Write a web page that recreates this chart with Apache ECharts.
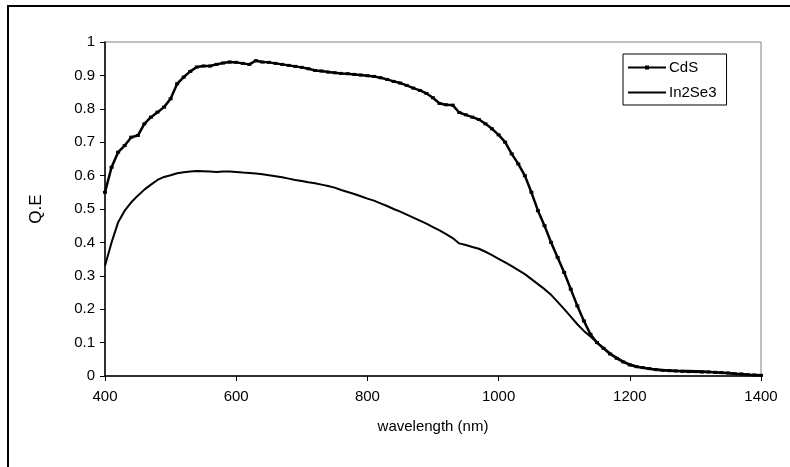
<!DOCTYPE html>
<html>
<head>
<meta charset="utf-8">
<script src="https://cdn.jsdelivr.net/npm/echarts@6/dist/echarts.min.js"></script>
<style>
  html, body { margin: 0; padding: 0; background: #fff; }
  #chart { width: 790px; height: 467px; }
</style>
</head>
<body>
<div id="chart"></div>
<script>
// wavelength grid (nm), 10 nm step
const wavelength = [
  400, 410, 420, 430, 440, 450, 460, 470, 480, 490,
  500, 510, 520, 530, 540, 550, 560, 570, 580, 590,
  600, 610, 620, 630, 640, 650, 660, 670, 680, 690,
  700, 710, 720, 730, 740, 750, 760, 770, 780, 790,
  800, 810, 820, 830, 840, 850, 860, 870, 880, 890,
  900, 910, 920, 930, 940, 950, 960, 970, 980, 990,
  1000, 1010, 1020, 1030, 1040, 1050, 1060, 1070, 1080, 1090,
  1100, 1110, 1120, 1130, 1140, 1150, 1160, 1170, 1180, 1190,
  1200, 1210, 1220, 1230, 1240, 1250, 1260, 1270, 1280, 1290,
  1300, 1310, 1320, 1330, 1340, 1350, 1360, 1370, 1380, 1390,
  1400
]

const cdsQE = [
  0.55, 0.625, 0.67, 0.69, 0.715, 0.72, 0.755, 0.775, 0.79, 0.805,
  0.83, 0.875, 0.895, 0.912, 0.925, 0.928, 0.928, 0.933, 0.937, 0.94,
  0.939, 0.936, 0.933, 0.944, 0.94, 0.939, 0.936, 0.933, 0.93, 0.927,
  0.924, 0.92, 0.915, 0.913, 0.91, 0.908, 0.906, 0.905, 0.903, 0.901,
  0.899, 0.897, 0.893, 0.888, 0.882, 0.877, 0.87, 0.862, 0.855, 0.846,
  0.833, 0.816, 0.812, 0.811, 0.789, 0.782, 0.775, 0.768, 0.755, 0.74,
  0.722, 0.7, 0.665, 0.635, 0.6, 0.55, 0.495, 0.45, 0.4, 0.355,
  0.31, 0.26, 0.21, 0.165, 0.125, 0.1, 0.083, 0.066, 0.053, 0.042,
  0.033, 0.028, 0.025, 0.022, 0.019, 0.017, 0.016, 0.015, 0.014, 0.013,
  0.013, 0.012, 0.012, 0.011, 0.01, 0.009, 0.007, 0.006, 0.004, 0.003,
  0.002
]

const in2se3QE = [
  0.33, 0.4, 0.46, 0.495, 0.52, 0.54, 0.558, 0.573, 0.587, 0.596,
  0.601, 0.607, 0.61, 0.612, 0.614, 0.613, 0.612, 0.611, 0.612, 0.612,
  0.611, 0.609, 0.608, 0.606, 0.604, 0.601, 0.598, 0.595, 0.591, 0.587,
  0.584, 0.58, 0.577, 0.573, 0.569, 0.564, 0.557, 0.551, 0.545, 0.538,
  0.531, 0.525, 0.517, 0.509, 0.5, 0.492, 0.483, 0.474, 0.465, 0.456,
  0.446, 0.436, 0.425, 0.413, 0.397, 0.392, 0.386, 0.381, 0.372, 0.362,
  0.351, 0.34, 0.329, 0.317, 0.305, 0.29, 0.275, 0.26, 0.243, 0.222,
  0.2, 0.178, 0.155, 0.135, 0.118, 0.1, 0.083, 0.068, 0.055, 0.044,
  0.035, 0.029, 0.025, 0.022, 0.02, 0.018, 0.017, 0.016, 0.016, 0.016,
  0.015, 0.014, 0.013, 0.011, 0.009, 0.008, 0.006, 0.005, 0.004, 0.003,
  0.002
]

const seriesNames = ['CdS', 'In2Se3']

const font = 'Liberation Sans, Arial, sans-serif'

const chart = echarts.init(document.getElementById('chart'))

const pairs = (ys) => wavelength.map((x, i) => [x, ys[i]])

// legend icons: a line, the CdS one with a small marker in the middle
const iconCdS = 'path://M0,0 M38,14 M0,6 L38,6 L38,8 L0,8 Z M17,5 L21,5 L21,9 L17,9 Z'
const iconIn2Se3 = 'path://M0,0 M38,14 M0,6 L38,6 L38,8 L0,8 Z'

const option = {
  animation: false,
  backgroundColor: '#fff',
  graphic: [
    {
      type: 'rect',
      shape: { x: 8, y: 6, width: 800, height: 480 },
      style: { fill: 'none', stroke: '#000', lineWidth: 2 },
      silent: true
    }
  ],
  grid: {
    left: 105,
    right: 29,
    top: 42,
    bottom: 91,
    show: true,
    borderColor: '#808080',
    borderWidth: 1,
    backgroundColor: '#fff'
  },
  legend: {
    data: [
      { name: seriesNames[0], icon: iconCdS },
      { name: seriesNames[1], icon: iconIn2Se3 }
    ],
    orient: 'vertical',
    left: 623,
    top: 54,
    itemWidth: 38,
    itemHeight: 14,
    itemGap: 10,
    padding: [6, 10, 5, 5],
    borderColor: '#000',
    borderWidth: 1,
    backgroundColor: '#fff',
    textStyle: { fontFamily: font, fontSize: 15, color: '#000', padding: [0, 0, 0, -2] }
  },
  xAxis: {
    type: 'value',
    min: 400,
    max: 1400,
    interval: 200,
    name: 'wavelength (nm)',
    nameLocation: 'middle',
    nameGap: 43,
    nameTextStyle: { fontFamily: font, fontSize: 15, color: '#000' },
    axisLine: { lineStyle: { color: '#000', width: 1.5 } },
    axisTick: { show: true, length: 5, lineStyle: { color: '#000' } },
    axisLabel: {
      fontFamily: font,
      fontSize: 15,
      color: '#000',
      margin: 13,
      formatter: (v) => String(v)
    },
    splitLine: { show: false }
  },
  yAxis: {
    type: 'value',
    min: 0,
    max: 1,
    interval: 0.1,
    name: 'Q.E',
    nameLocation: 'middle',
    nameGap: 60,
    nameTextStyle: { fontFamily: font, fontSize: 17, color: '#000' },
    axisLine: { show: true, lineStyle: { color: '#000', width: 1.5 } },
    axisTick: { show: true, length: 5, lineStyle: { color: '#000' } },
    axisLabel: {
      fontFamily: font,
      fontSize: 15,
      color: '#000',
      margin: 10,
      formatter: (v) => String(Math.round(v * 10) / 10)
    },
    splitLine: { show: false }
  },
  series: [
    {
      name: seriesNames[0],
      type: 'line',
      data: pairs(cdsQE),
      symbol: 'rect',
      symbolSize: [4, 3],
      showAllSymbol: true,
      itemStyle: { color: '#000' },
      lineStyle: { color: '#000', width: 2.5 },
      z: 3
    },
    {
      name: seriesNames[1],
      type: 'line',
      data: pairs(in2se3QE),
      symbol: 'none',
      itemStyle: { color: '#000' },
      lineStyle: { color: '#000', width: 2 },
      z: 2
    }
  ]
}

chart.setOption(option)
</script>
</body>
</html>
